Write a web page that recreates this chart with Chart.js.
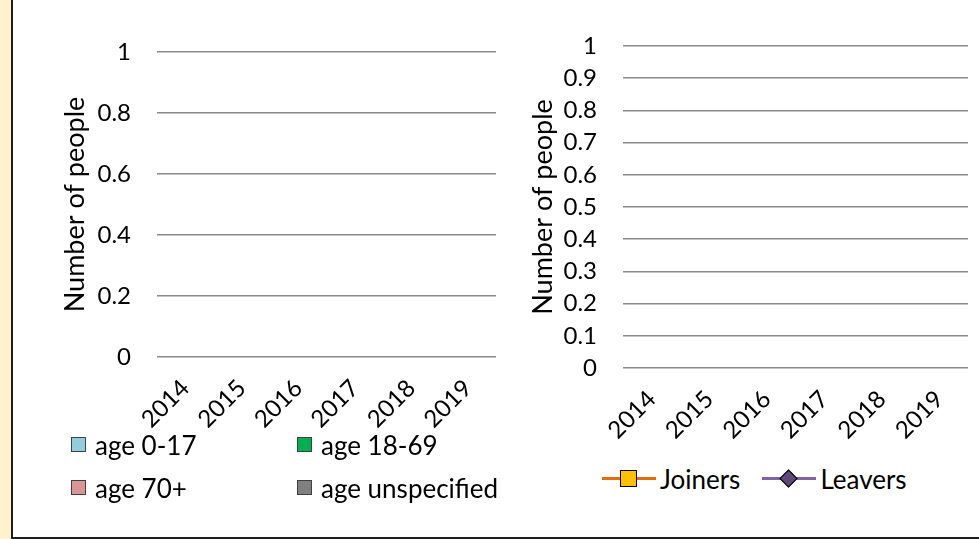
<!DOCTYPE html>
<html lang="en">
<head>
    <meta charset="UTF-8">
    <title>Number of people</title>
    <script src="https://cdn.jsdelivr.net/npm/chart.js"></script>
    <style>
        body { margin: 0; width: 979px; height: 539px; overflow: hidden; background: #FFF2CC; font-family: Lato, "Open Sans", sans-serif; }
        #panel { position: absolute; left: 11px; top: 0; width: 970px; height: 539px; box-sizing: border-box;
                 border-left: 2px solid #1e1e1e; border-bottom: 2px solid #1e1e1e; background: #fff; }
        canvas { position: absolute; top: 0; }
        #ageChart { left: 14px; }
        #flowChart { left: 514px; }
        .legend { position: absolute; font-size: 26px; color: #000; }
        #ageLegend { left: 71px; top: 423px; display: grid; grid-template-columns: 226px auto; grid-auto-rows: 43px; }
        #ageLegend .item, #flowLegend .item { display: flex; align-items: center; }
        #ageLegend .box { width: 13px; height: 13px; border: 1px solid #404040; margin-right: 9px; }
        #flowLegend { left: 602px; top: 457px; height: 43px; display: flex; align-items: center; }
        #flowLegend .item { margin-right: 22px; }
        .key { position: relative; width: 54px; height: 24px; margin-right: 4px; }
        .key .ln { position: absolute; left: 0; right: 0; top: 10px; height: 3px; }
        .key .mk { position: absolute; left: 18px; top: 3px; width: 15px; height: 15px; border: 1.5px solid #000; }
        .key .mk.diamond { width: 11px; height: 11px; left: 20px; top: 5px; transform: rotate(45deg); }
    </style>
</head>
<body>
    <div id="panel"></div>
    <canvas id="ageChart" width="496" height="430" style="width:496px;height:430px"></canvas>
    <canvas id="flowChart" width="465" height="440" style="width:465px;height:440px"></canvas>
    <div id="ageLegend" class="legend"></div>
    <div id="flowLegend" class="legend"></div>
    <script>
        // Data: both charts are empty (no values shown)
        const years = ['2014', '2015', '2016', '2017', '2018', '2019'];
        const ageGroups = ['age 0-17', 'age 18-69', 'age 70+', 'age unspecified'];
        const age0to17 = [null, null, null, null, null, null];
        const age18to69 = [null, null, null, null, null, null];
        const age70plus = [null, null, null, null, null, null];
        const ageUnspecified = [null, null, null, null, null, null];
        const flowNames = ['Joiners', 'Leavers'];
        const joiners = [null, null, null, null, null, null];
        const leavers = [null, null, null, null, null, null];
        const leftTickLabels = ['0', '0.2', '0.4', '0.6', '0.8', '1'];
        const rightTickLabels = ['0', '0.1', '0.2', '0.3', '0.4', '0.5', '0.6', '0.7', '0.8', '0.9', '1'];

        // Styles
        const ageColors = ['#93CDDD', '#00B050', '#D99694', '#808080'];
        const flowLineColors = ['#E46C0A', '#8064A2'];
        const flowMarkerColors = ['#FFC000', '#5F497A'];
        const flowMarkers = ['rect', 'rectRot'];
        const gridColor = '#898989';
        const tickFont = { family: 'Lato', size: 24 };
        const titleFont = { family: 'Lato', size: 27 };

        function yAxis(labels, step, width, titlePad) {
            return {
                min: 0, max: 1,
                ticks: { stepSize: step, padding: 26, color: '#000', font: tickFont,
                         callback: (v, i) => labels[i] },
                grid: { color: gridColor, lineWidth: 1.6, drawTicks: false },
                border: { display: false },
                title: { display: true, text: 'Number of people', color: '#000', font: titleFont,
                         padding: { top: titlePad, bottom: 0 } },
                afterFit: s => { s.width = width; }
            };
        }

        function xAxis(height, offset) {
            return {
                offset: offset,
                ticks: { minRotation: 45, maxRotation: 45, padding: 17, color: '#000', font: tickFont, autoSkip: false },
                grid: { display: false, drawTicks: false },
                border: { display: false },
                afterFit: s => { s.height = height; }
            };
        }

        new Chart(document.getElementById('ageChart'), {
            type: 'bar',
            data: {
                labels: years,
                datasets: [age0to17, age18to69, age70plus, ageUnspecified].map((d, i) => ({
                    label: ageGroups[i], data: d, backgroundColor: ageColors[i],
                    borderColor: '#404040', borderWidth: 1
                }))
            },
            options: {
                responsive: false, animation: false,
                layout: { padding: { top: 52, right: 14, left: 0, bottom: 0 } },
                plugins: { legend: { display: false }, tooltip: { enabled: false } },
                scales: {
                    x: Object.assign(xAxis(73, true), { stacked: true }),
                    y: Object.assign(yAxis(leftTickLabels, 0.2, 143, 45), { stacked: true })
                }
            }
        });

        new Chart(document.getElementById('flowChart'), {
            type: 'line',
            data: {
                labels: years,
                datasets: [joiners, leavers].map((d, i) => ({
                    label: flowNames[i], data: d, borderColor: flowLineColors[i], borderWidth: 3,
                    pointStyle: flowMarkers[i], pointRadius: 8, pointBackgroundColor: flowMarkerColors[i],
                    pointBorderColor: '#000'
                }))
            },
            options: {
                responsive: false, animation: false,
                layout: { padding: { top: 46, right: 2, left: 0, bottom: 0 } },
                plugins: { legend: { display: false }, tooltip: { enabled: false } },
                scales: {
                    x: xAxis(72, true),
                    y: yAxis(rightTickLabels, 0.1, 109, 13)
                }
            }
        });

        // Legends built from the series names
        const ageLegend = document.getElementById('ageLegend');
        ageGroups.forEach((name, i) => {
            const item = document.createElement('div');
            item.className = 'item';
            item.innerHTML = '<span class="box" style="background:' + ageColors[i] + '"></span><span>' + name + '</span>';
            ageLegend.appendChild(item);
        });

        const flowLegend = document.getElementById('flowLegend');
        flowNames.forEach((name, i) => {
            const item = document.createElement('div');
            item.className = 'item';
            const mk = flowMarkers[i] === 'rectRot' ? 'mk diamond' : 'mk';
            item.innerHTML = '<span class="key"><span class="ln" style="background:' + flowLineColors[i] + '"></span>' +
                '<span class="' + mk + '" style="background:' + flowMarkerColors[i] + '"></span></span><span>' + name + '</span>';
            flowLegend.appendChild(item);
        });
    </script>
</body>
</html>
